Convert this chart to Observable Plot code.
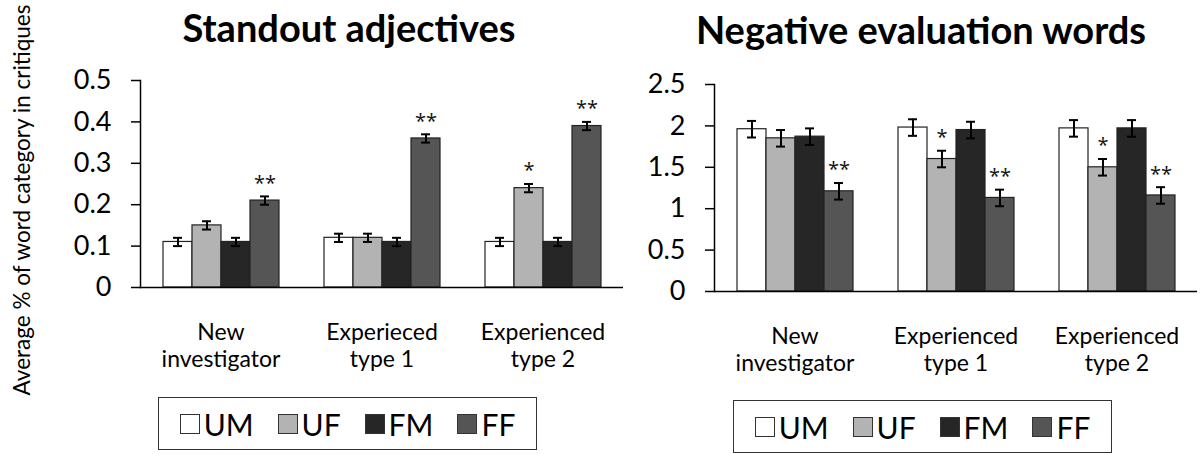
<!DOCTYPE html>
<html>
<head>
<meta charset="utf-8">
<script src="https://cdn.jsdelivr.net/npm/d3@7"></script>
<script src="https://cdn.jsdelivr.net/npm/@observablehq/plot@0.6"></script>
<style>
  html, body { margin: 0; padding: 0; background: #fff; }
  #wrap { position: relative; width: 1200px; height: 454px; overflow: hidden; font-family: Lato, "Open Sans", sans-serif; color: #000; }
  .abs { position: absolute; }
  .title { font-weight: 700; font-size: 38px; white-space: nowrap; text-align: center; line-height: 44px; }
  .ylab { font-size: 22.5px; white-space: nowrap; text-align: center; line-height: 28px; width: 440px; height: 28px; transform: rotate(-90deg); }
  .legend { border: 1px solid #333; box-sizing: border-box; display: flex; align-items: center; justify-content: center; gap: 24px; font-size: 30px; }
  .item { display: flex; align-items: center; gap: 4px; }
  .sw { width: 20px; height: 20px; border: 1px solid #333; box-sizing: border-box; }
</style>
</head>
<body>
<div id="wrap"></div>
<script>
// ---- data ----
const series = ["UM", "UF", "FM", "FF"];
const seriesColors = ["#ffffff", "#b3b3b3", "#262626", "#555555"];

const leftTitle = "Standout adjectives";
const leftGroups = ["New investigator", "Experieced type 1", "Experienced type 2"];
const leftGroupLabels = ["New\ninvestigator", "Experieced\ntype 1", "Experienced\ntype 2"];
const leftUM = [0.11, 0.12, 0.11];
const leftUF = [0.15, 0.12, 0.24];
const leftFM = [0.11, 0.11, 0.11];
const leftFF = [0.21, 0.36, 0.39];
const leftErr = [0.01, 0.01, 0.01];
const leftSigUF = ["", "", "*"];
const leftSigFF = ["**", "**", "**"];
const leftTicks = [0, 0.1, 0.2, 0.3, 0.4, 0.5];

const rightTitle = "Negative evaluation words";
const rightGroups = ["New investigator", "Experienced type 1", "Experienced type 2"];
const rightGroupLabels = ["New\ninvestigator", "Experienced\ntype 1", "Experienced\ntype 2"];
const rightUM = [1.96, 1.98, 1.97];
const rightUF = [1.85, 1.60, 1.50];
const rightFM = [1.87, 1.95, 1.97];
const rightFF = [1.21, 1.13, 1.16];
const rightErr = [0.1, 0.1, 0.1];
const rightSigUF = ["", "*", "*"];
const rightSigFF = ["**", "**", "**"];
const rightTicks = [0, 0.5, 1, 1.5, 2, 2.5];

const yLabel = "Average % of word category in critiques";

// ---- build rows ----
function rowsFor(groups, UM, UF, FM, FF, err, sigUF, sigFF) {
  const rows = [];
  groups.forEach((g, i) => {
    const vals = [UM[i], UF[i], FM[i], FF[i]];
    const sigs = ["", sigUF[i], "", sigFF[i]];
    series.forEach((s, j) => rows.push({group: g, series: s, value: vals[j], err: err[i], sig: sigs[j]}));
  });
  return rows;
}

function chart({groups, labels, rows, ticks, width, height, marginLeft, marginRight, marginTop, marginBottom}) {
  const labelMap = new Map(groups.map((g, i) => [g, labels[i]]));
  return Plot.plot({
    width, height, marginLeft, marginRight, marginTop, marginBottom,
    style: {fontFamily: "Lato, 'Open Sans', sans-serif", background: "none", color: "#000", overflow: "visible"},
    fx: {domain: groups, paddingInner: 0, paddingOuter: 0, axis: null, label: null},
    x: {domain: series, paddingInner: 0, paddingOuter: 0.74, axis: null},
    y: {domain: [ticks[0], ticks[ticks.length - 1]], axis: null},
    color: {domain: series, range: seriesColors},
    marks: [
      Plot.barY(rows, {fx: "group", x: "series", y: "value", fill: "series", stroke: "#222", strokeWidth: 1.2}),
      Plot.ruleX(rows, {fx: "group", x: "series", y1: d => d.value - d.err, y2: d => d.value + d.err, stroke: "#000", strokeWidth: 2}),
      Plot.tickY(rows, {fx: "group", x: "series", y: d => d.value - d.err, insetLeft: 10, insetRight: 10, stroke: "#000", strokeWidth: 2}),
      Plot.tickY(rows, {fx: "group", x: "series", y: d => d.value + d.err, insetLeft: 10, insetRight: 10, stroke: "#000", strokeWidth: 2}),
      Plot.text(rows.filter(d => d.sig), {fx: "group", x: "series", y: d => d.value + d.err, text: "sig", dy: -13, fontSize: 20, fontFamily: "'Open Sans', sans-serif", fill: "#111", letterSpacing: 2}),
      Plot.ruleY([0], {stroke: "#000", strokeWidth: 1.5}),
      Plot.frame({anchor: "left", fx: () => groups[0], stroke: "#000", strokeWidth: 1.5}),
      Plot.axisY({ticks, tickSize: 9, tickPadding: 20, fontSize: 27, tickFormat: d => String(d), label: null, strokeWidth: 1.5}),
      Plot.axisFx({anchor: "bottom", tickSize: 0, tickPadding: 33, fontSize: 23, lineHeight: 1.18, tickFormat: d => labelMap.get(d), label: null})
    ]
  });
}

const wrap = document.getElementById("wrap");

const leftSvg = chart({
  groups: leftGroups, labels: leftGroupLabels,
  rows: rowsFor(leftGroups, leftUM, leftUF, leftFM, leftFF, leftErr, leftSigUF, leftSigFF),
  ticks: leftTicks, width: 625, height: 390, marginLeft: 139, marginRight: 2, marginTop: 80, marginBottom: 103
});
leftSvg.classList.add("abs"); leftSvg.style.left = "0px"; leftSvg.style.top = "0px";
wrap.appendChild(leftSvg);

const rightSvg = chart({
  groups: rightGroups, labels: rightGroupLabels,
  rows: rowsFor(rightGroups, rightUM, rightUF, rightFM, rightFF, rightErr, rightSigUF, rightSigFF),
  ticks: rightTicks, width: 575, height: 390, marginLeft: 88, marginRight: 3, marginTop: 84, marginBottom: 99
});
rightSvg.classList.add("abs"); rightSvg.style.left = "625px"; rightSvg.style.top = "0px";
wrap.appendChild(rightSvg);

function addDiv(cls, text, css) {
  const d = document.createElement("div");
  d.className = "abs " + cls;
  if (text != null) d.textContent = text;
  Object.assign(d.style, css);
  wrap.appendChild(d);
  return d;
}
addDiv("title", leftTitle, {left: "149px", top: "5px", width: "400px"});
addDiv("title", rightTitle, {left: "671px", top: "7px", width: "500px"});
addDiv("ylab", yLabel, {left: (22 - 220) + "px", top: (200 - 14) + "px"});

function legend(left, top) {
  const box = addDiv("legend", null, {left: left + "px", top: top + "px", width: "379px", height: "53px"});
  series.forEach((s, i) => {
    const it = document.createElement("div"); it.className = "item";
    const sw = document.createElement("div"); sw.className = "sw"; sw.style.background = seriesColors[i];
    const t = document.createElement("span"); t.textContent = s;
    it.appendChild(sw); it.appendChild(t); box.appendChild(it);
  });
}
legend(158, 397);
legend(733, 400);
</script>
</body>
</html>
